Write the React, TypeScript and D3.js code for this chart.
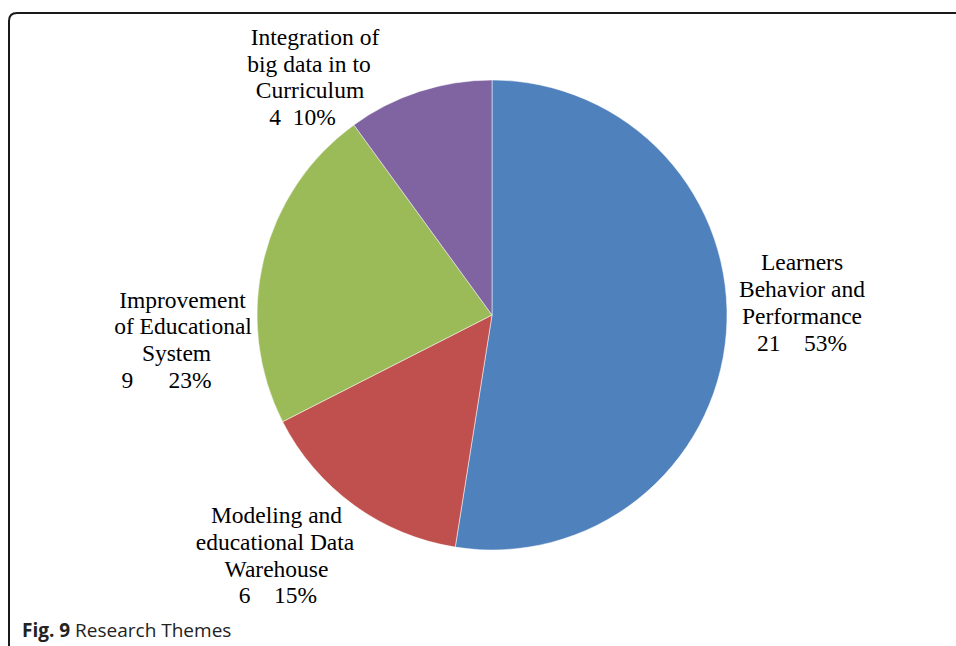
import React from "react";
import * as d3 from "d3";

const categories = [
  "Learners Behavior and Performance",
  "Modeling and educational Data Warehouse",
  "Improvement of Educational System",
  "Integration of big data in to Curriculum",
];
const values = [21, 6, 9, 4];
const percents = ["53%", "15%", "23%", "10%"];
const colors = ["#4F81BD", "#C0504D", "#9BBB59", "#8064A2"];
const labelLines = [
  ["Learners", "Behavior and", "Performance"],
  ["Modeling and", "educational Data", "Warehouse"],
  ["Improvement", "of Educational", "System"],
  ["Integration of", "big data in to", "Curriculum"],
];
const valueGaps = ["    ", "    ", "      ", "  "];
const labelPos = [
  { x: 802, y: 270, lh: 27, dx: [0, 0, 0, 0] },
  { x: 276, y: 523.3, lh: 26.7, dx: [0.5, -1, 0.5, 2] },
  { x: 182, y: 307.5, lh: 26.7, dx: [0.5, 1, -5.5, -15.5] },
  { x: 311, y: 45, lh: 26.6, dx: [4, -2, -1, -8.5] },
];

export default function App() {
  const W = 956, H = 646;
  const cx = 492, cy = 315, r = 235;
  const pie = d3.pie<number>().sort(null).value((d) => d);
  const arcs = pie(values);
  const arc = d3.arc<d3.PieArcDatum<number>>().innerRadius(0).outerRadius(r);
  return (
    <svg width={W} height={H} style={{ position: "absolute", left: 0, top: 0 }}>
      <rect x={0} y={0} width={W} height={H} fill="#fff" />
      <path
        d={`M9,${H + 5} L9,21 Q9,13 17,13 L${W + 5},13`}
        fill="none"
        stroke="#1a1a1a"
        strokeWidth={2}
      />
      <g transform={`translate(${cx},${cy})`}>
        {arcs.map((a, i) => (
          <path key={categories[i]} d={arc(a) || ""} fill={colors[i]} stroke="#fff" strokeWidth={0.5} />
        ))}
      </g>
      {labelLines.map((lines, i) => {
        const p = labelPos[i];
        return (
          <text
            key={categories[i]}
            fontFamily="Liberation Serif"
            fontSize={23.5}
            fill="#000"
            textAnchor="middle"
            style={{ whiteSpace: "pre" }}
          >
            {lines.map((l, j) => (
              <tspan key={j} x={p.x + p.dx[j]} y={p.y + j * p.lh}>
                {l}
              </tspan>
            ))}
            <tspan x={p.x + p.dx[3]} y={p.y + 3 * p.lh}>
              {`${values[i]}${valueGaps[i]}${percents[i]}`}
            </tspan>
          </text>
        );
      })}
      <text x={22} y={637} fontFamily="Open Sans" fontSize={19} fill="#222">
        <tspan fontWeight="bold">Fig. 9</tspan>
        <tspan> Research Themes</tspan>
      </text>
    </svg>
  );
}
